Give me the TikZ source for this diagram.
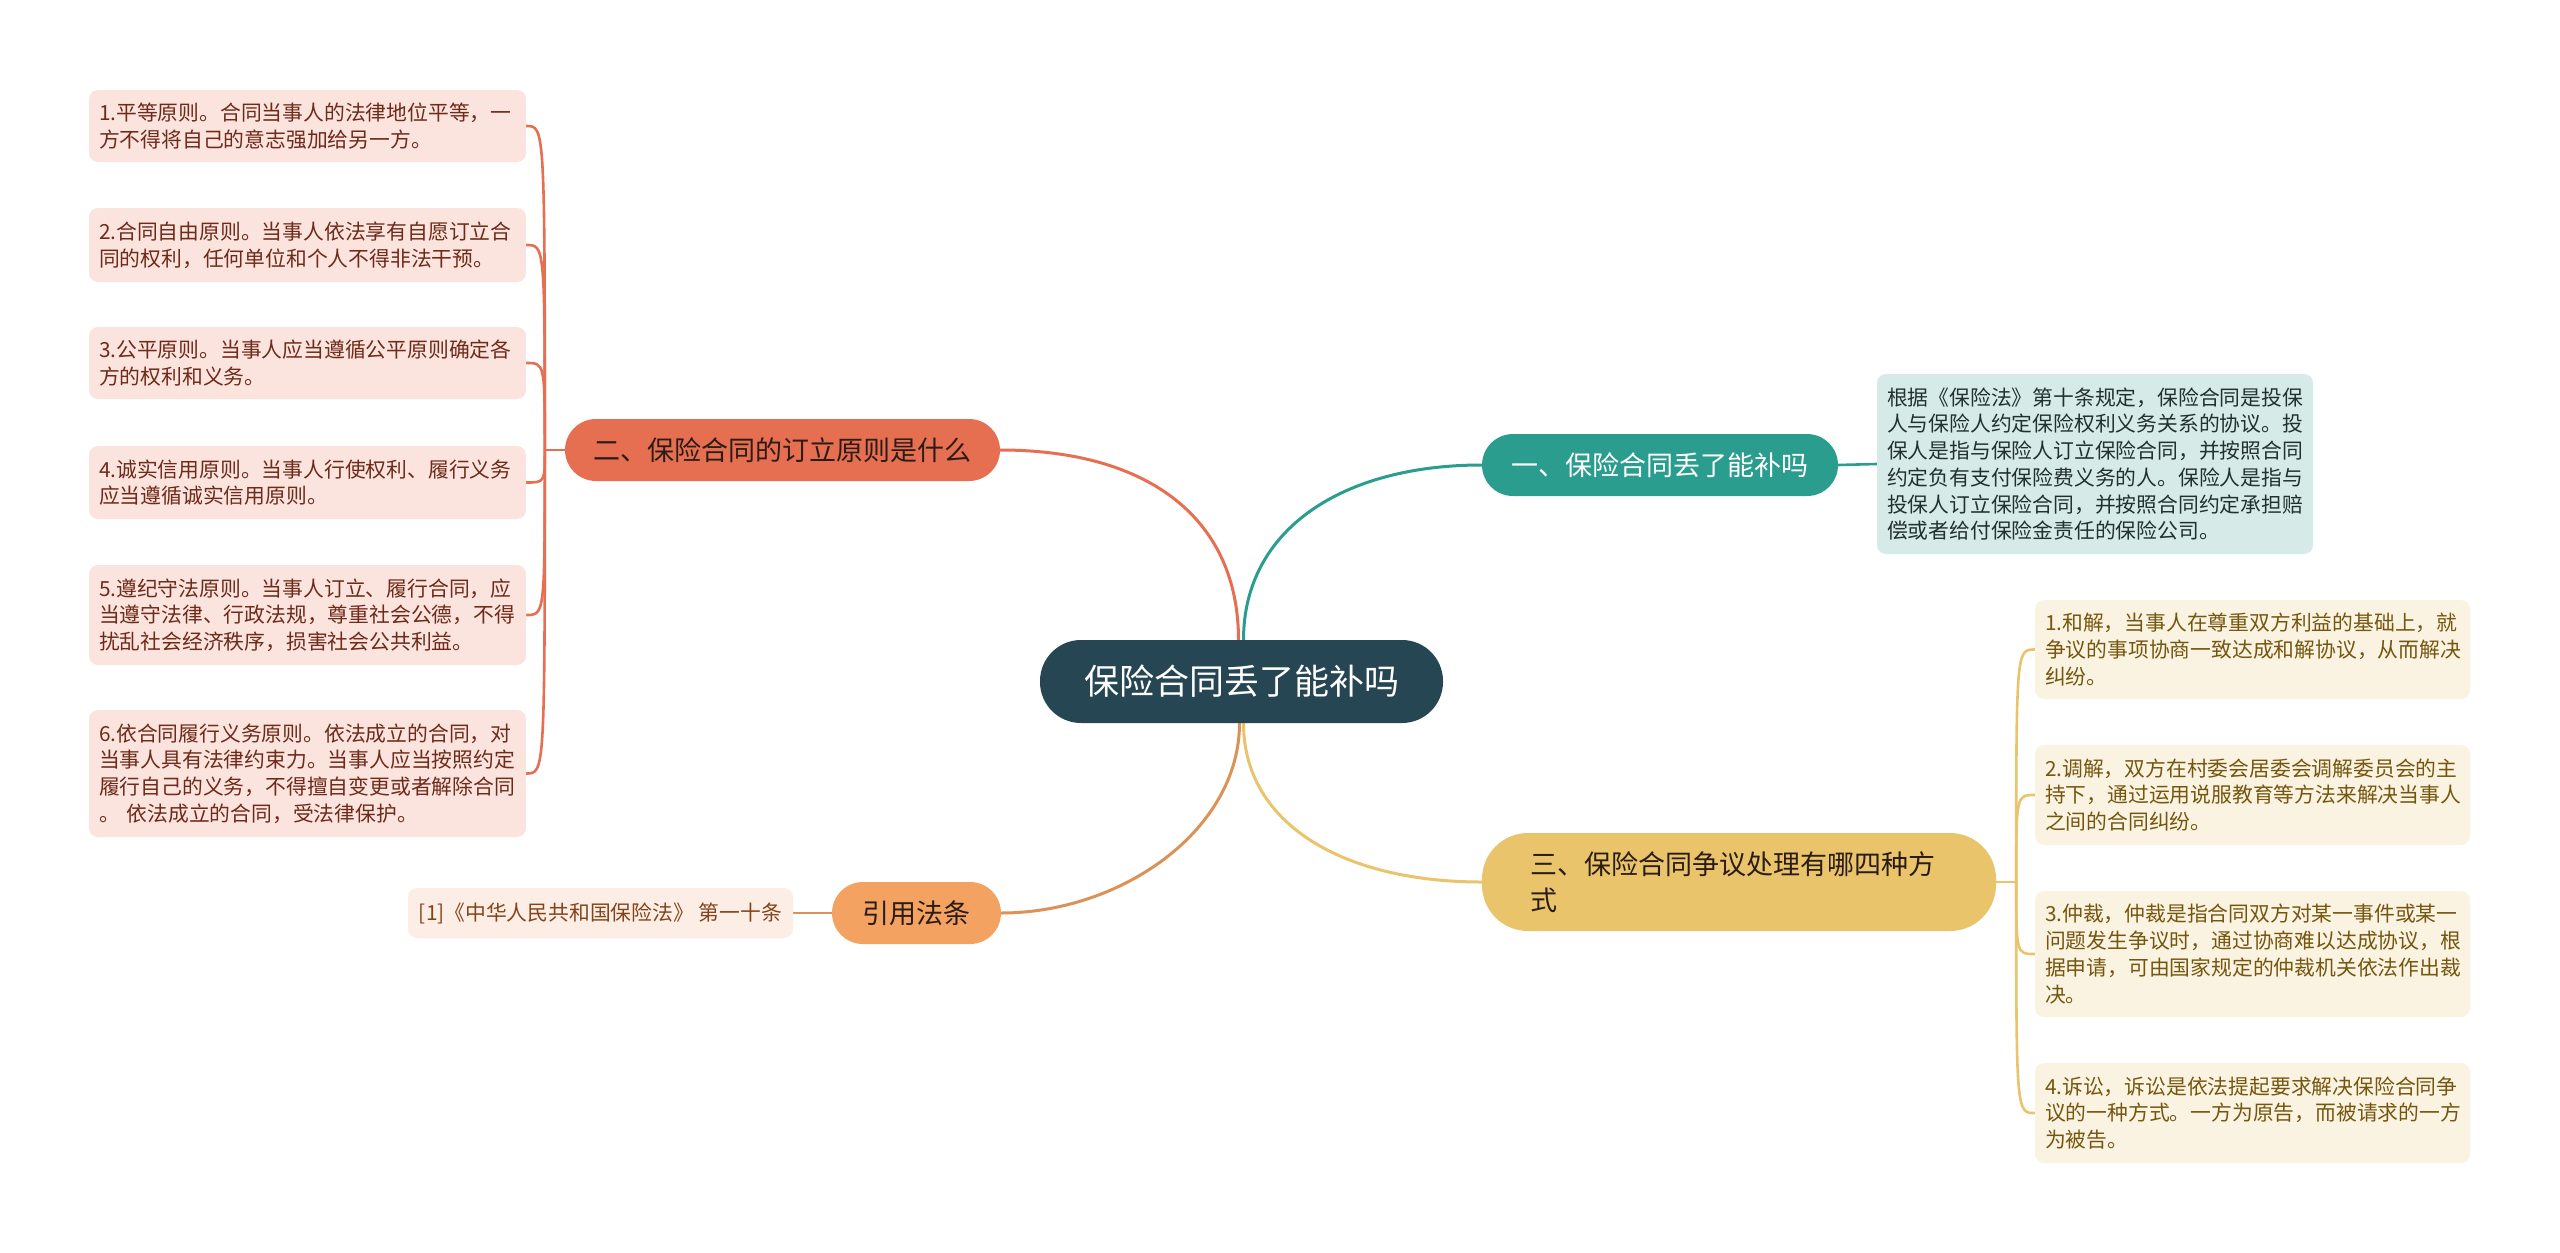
\documentclass[tikz,border=0pt]{standalone}
\usepackage{fontspec}
\setmainfont{Noto Sans CJK SC}
\usetikzlibrary{backgrounds}
\definecolor{cCenter}{HTML}{264653}
\definecolor{cRed}{HTML}{E76F51}
\definecolor{cTeal}{HTML}{2A9D8F}
\definecolor{cGold}{HTML}{E9C46A}
\definecolor{cOrange}{HTML}{F4A261}
\definecolor{fRed}{HTML}{FBE4DD}
\definecolor{fTeal}{HTML}{D6EBE8}
\definecolor{fGold}{HTML}{FBF3E2}
\definecolor{fOrange}{HTML}{FDEEE5}
\definecolor{tRed}{HTML}{6E2A1A}
\definecolor{tTeal}{HTML}{22302F}
\definecolor{tGold}{HTML}{74560E}
\definecolor{tOrange}{HTML}{83441C}
\definecolor{tDark}{HTML}{2B1C16}
\begin{document}
\begin{tikzpicture}[x=1pt,y=-1pt,
  leafbox/.style={rectangle, rounded corners=9pt, inner xsep=10pt, inner ysep=0pt,
    align=left, font=\fontsize{20.8pt}{26.7pt}\selectfont},
  leftleaf/.style={leafbox, fill=fRed, text=tRed, text width=417pt},
  goldleaf/.style={leafbox, fill=fGold, text=tGold, text width=415pt},
  tealleaf/.style={leafbox, fill=fTeal, text=tTeal, text width=416pt},
  citeleaf/.style={rectangle, rounded corners=9pt, inner sep=0pt, fill=fOrange, text=tOrange,
    font=\fontsize{20.8pt}{26.7pt}\selectfont},
  pill/.style={rectangle, inner sep=0pt, align=center, font=\fontsize{27pt}{36pt}\selectfont},
  maincon/.style={line width=3pt},
  subcon/.style={line width=2.6pt}
]
\useasboundingbox (0,0) rectangle (2560,1253);

% center
\node[pill, fill=cCenter, text=white, minimum width=403pt, minimum height=83pt,
  rounded corners=41pt, font=\fontsize{35pt}{40pt}\selectfont] (c) at (1241.5,681.5) {保险合同丢了能补吗};

% branches
\node[pill, fill=cRed, text=tDark, minimum width=435pt, minimum height=62pt, rounded corners=31pt]
  (b1) at (782.5,450) {二、保险合同的订立原则是什么};
\node[pill, fill=cTeal, text=white, minimum width=356pt, minimum height=62pt, rounded corners=31pt]
  (b2) at (1660,465) {一、保险合同丢了能补吗};
\node[pill, fill=cGold, text=tDark, text width=418pt, inner xsep=48pt, align=left,
  minimum height=98pt, rounded corners=46pt]
  (b3) at (1739,882) {三、保险合同争议处理有哪四种方\\式};
\node[pill, fill=cOrange, text=tDark, minimum width=169pt, minimum height=62pt, rounded corners=31pt]
  (b4) at (916.5,913) {引用法条};

% left leaves
\node[leftleaf, minimum height=72pt] (l1) at (307.5,126) {1.平等原则。合同当事人的法律地位平等，一\\方不得将自己的意志强加给另一方。};
\node[leftleaf, minimum height=74pt] (l2) at (307.5,245) {2.合同自由原则。当事人依法享有自愿订立合\\同的权利，任何单位和个人不得非法干预。};
\node[leftleaf, minimum height=72pt] (l3) at (307.5,363) {3.公平原则。当事人应当遵循公平原则确定各\\方的权利和义务。};
\node[leftleaf, minimum height=73pt] (l4) at (307.5,482.5) {4.诚实信用原则。当事人行使权利、履行义务\\应当遵循诚实信用原则。};
\node[leftleaf, minimum height=100pt] (l5) at (307.5,615) {5.遵纪守法原则。当事人订立、履行合同，应\\当遵守法律、行政法规，尊重社会公德，不得\\扰乱社会经济秩序，损害社会公共利益。};
\node[leftleaf, minimum height=127pt] (l6) at (307.5,773.5) {6.依合同履行义务原则。依法成立的合同，对\\当事人具有法律约束力。当事人应当按照约定\\履行自己的义务，不得擅自变更或者解除合同\\。 依法成立的合同，受法律保护。};

% teal leaf
\node[tealleaf, minimum height=180pt] (t1) at (2095,464) {根据《保险法》第十条规定，保险合同是投保\\人与保险人约定保险权利义务关系的协议。投\\保人是指与保险人订立保险合同，并按照合同\\约定负有支付保险费义务的人。保险人是指与\\投保人订立保险合同，并按照合同约定承担赔\\偿或者给付保险金责任的保险公司。};

% gold leaves
\node[goldleaf, minimum height=99pt] (g1) at (2252.5,649.5) {1.和解，当事人在尊重双方利益的基础上，就\\争议的事项协商一致达成和解协议，从而解决\\纠纷。};
\node[goldleaf, minimum height=100pt] (g2) at (2252.5,795) {2.调解，双方在村委会居委会调解委员会的主\\持下，通过运用说服教育等方法来解决当事人\\之间的合同纠纷。};
\node[goldleaf, minimum height=126pt] (g3) at (2252.5,954) {3.仲裁，仲裁是指合同双方对某一事件或某一\\问题发生争议时，通过协商难以达成协议，根\\据申请，可由国家规定的仲裁机关依法作出裁\\决。};
\node[goldleaf, minimum height=100pt] (g4) at (2252.5,1113) {4.诉讼，诉讼是依法提起要求解决保险合同争\\议的一种方式。一方为原告，而被请求的一方\\为被告。};

% cite leaf
\node[citeleaf, minimum width=385pt, minimum height=50pt] (r1) at (600.5,913) {[1]《中华人民共和国保险法》 第一十条};

\begin{scope}[on background layer]
  \fill[white] (0,0) rectangle (2560,1253);
  % main connectors
  \draw[maincon, cRed] ([xshift=-3pt]c.north) .. controls +(0,-120) and +(150,0) .. (b1.east);
  \draw[maincon, cTeal] ([xshift=2pt]c.north) .. controls +(0,-110) and +(-140,0) .. (b2.west);
  \draw[maincon, cOrange!90!black] ([xshift=-2pt]c.south) .. controls +(0,107) and +(120,0) .. (b4.east);
  \draw[maincon, cGold] ([xshift=2pt]c.south) .. controls +(0,100) and +(-140,0) .. (b3.west);

  % left bracket
  \coordinate (jl) at ([xshift=-20pt]b1.west);
  \draw[subcon, cRed] (b1.west) -- (jl);
  \foreach \n in {l1,l2,l3,l4,l5,l6}
    \draw[subcon, cRed] (jl) .. controls (jl |- \n.east) and (jl |- \n.east) .. (\n.east);

  % gold bracket
  \coordinate (jg) at ([xshift=20pt]b3.east);
  \draw[subcon, cGold] (b3.east) -- (jg);
  \foreach \n in {g1,g2,g3,g4}
    \draw[subcon, cGold] (jg) .. controls (jg |- \n.west) and (jg |- \n.west) .. (\n.west);

  % teal and cite
  \draw[subcon, cTeal] (b2.east) -- (t1.west);
  \draw[subcon, cOrange!90!black] (b4.west) -- (r1.east);
\end{scope}
\end{tikzpicture}
\end{document}
